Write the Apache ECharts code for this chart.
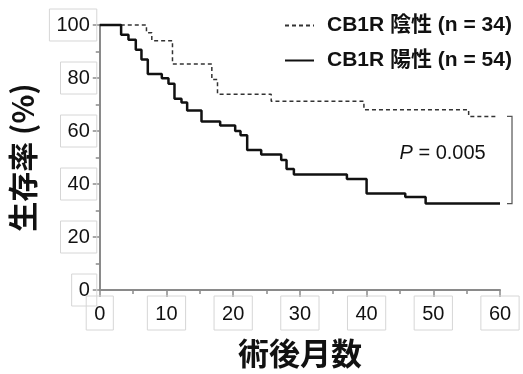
<!DOCTYPE html>
<html>
<head>
<meta charset="utf-8">
<script src="https://cdn.jsdelivr.net/npm/echarts@6/dist/echarts.min.js"></script>
<style>
html,body{margin:0;padding:0;background:#fff;}
#chart{width:523px;height:374px;}
</style>
</head>
<body>
<div id="chart"></div>
<script>
// ---- data ----
const negName = 'CB1R 陰性 (n = 34)';
const posName = 'CB1R 陽性 (n = 54)';
const negTimes = [0, 7.0, 7.8, 10.9, 16.8, 17.65, 25.7, 39.6, 55.3, 59.5];
const negSurv  = [100, 97.1, 94.1, 85.3, 79.4, 73.9, 71.2, 68.0, 65.5, 65.5];
const posTimes = [0, 3.2, 4.3, 5.4, 6.25, 7.2, 9.3, 10.3, 11.2, 12.25, 13.1, 15.25, 18.05, 20.3, 21.1, 22.1, 24.2, 27.2, 28.0, 29.1, 37.05, 40.0, 45.8, 48.85, 60];
const posSurv  = [100, 96.3, 94.4, 90.7, 87.0, 81.5, 79.9, 77.8, 72.2, 70.8, 67.7, 63.6, 62.1, 60.0, 58.4, 52.8, 51.1, 49.1, 45.7, 43.6, 41.9, 36.4, 35.1, 32.6, 32.6];
const xTicks = [0, 10, 20, 30, 40, 50, 60];
const yTicks = [0, 20, 40, 60, 80, 100];
const xTitle = '術後月数';
const yTitle = '生存率 (%)';
const pText = '= 0.005';
const bracketMonth = 61.8;
const pLabelPos = [51.4, 51.6];

const FONT = "'Liberation Sans', Arial, 'Noto Sans CJK JP', sans-serif";
const CJK = "'Noto Sans CJK JP', 'Liberation Sans', sans-serif";
const LEG = "'Liberation Sans', 'Noto Sans CJK JP', sans-serif";

const chart = echarts.init(document.getElementById('chart'), null, {renderer: 'canvas'});
const pair = (xs, ys) => xs.map((x, i) => [x, ys[i]]);

const labelBox = {
  color: '#111', fontFamily: FONT, fontSize: 20,
  borderColor: '#d6d6d6', borderWidth: 1
};

const option = {
  animation: false,
  backgroundColor: '#ffffff',
  grid: {left: 94.3, right: 23, top: 25, bottom: 80.5, containLabel: false},
  legend: {
    orient: 'vertical', left: 284, top: 15, padding: 0, itemWidth: 29, itemHeight: 16, itemGap: 14,
    data: [negName, posName],
    itemStyle: {opacity: 0},
    textStyle: {fontFamily: LEG, fontWeight: 'bold', fontSize: 21, color: '#111', padding: [0, 0, 0, 8]}
  },
  xAxis: {
    type: 'value', min: 0, max: 60, interval: 10,
    name: xTitle, nameLocation: 'middle', nameGap: 48,
    nameTextStyle: {fontFamily: CJK, fontWeight: 'bold', fontSize: 31, color: '#111'},
    axisLine: {show: true, onZero: false, lineStyle: {color: '#8a8a8a', width: 2}},
    axisTick: {show: true, length: 7, lineStyle: {color: '#8a8a8a', width: 1.5}},
    minorTick: {show: true, splitNumber: 2, length: 4, lineStyle: {color: '#8a8a8a', width: 1.5}},
    splitLine: {show: false},
    axisLabel: Object.assign({margin: 6, padding: [8, 8, 6, 8],
      formatter: v => xTicks.includes(v) ? String(v) : ''}, labelBox)
  },
  yAxis: {
    type: 'value', min: 0, max: 100, interval: 20,
    name: yTitle, nameLocation: 'middle', nameGap: 52, nameRotate: 90,
    nameTextStyle: {fontFamily: CJK, fontWeight: 'bold', fontSize: 30, color: '#111'},
    axisLine: {show: true, onZero: false, lineStyle: {color: '#8a8a8a', width: 2}},
    axisTick: {show: true, length: 7, lineStyle: {color: '#8a8a8a', width: 1.5}},
    minorTick: {show: true, splitNumber: 2, length: 4, lineStyle: {color: '#8a8a8a', width: 1.5}},
    splitLine: {show: false},
    axisLabel: Object.assign({margin: 3, padding: [6, 7, 6, 7],
      formatter: v => yTicks.includes(v) ? String(v) : ''}, labelBox)
  },
  series: [
    {
      name: negName, type: 'line', step: 'end', showSymbol: false, symbol: 'none',
      data: pair(negTimes, negSurv), clip: false,
      lineStyle: {color: '#333', width: 1.5, type: [4, 3]},
      itemStyle: {color: '#333'}
    },
    {
      name: posName, type: 'line', step: 'end', showSymbol: false, symbol: 'none',
      data: pair(posTimes, posSurv), clip: false,
      lineStyle: {color: '#111', width: 2.5},
      itemStyle: {color: '#111'}
    }
  ]
};
chart.setOption(option);

// annotation: bracket + P value, positioned through the chart's scales
const bTop = chart.convertToPixel({gridIndex: 0}, [bracketMonth, negSurv[negSurv.length - 1]]);
const bBot = chart.convertToPixel({gridIndex: 0}, [bracketMonth, posSurv[posSurv.length - 1]]);
const pPos = chart.convertToPixel({gridIndex: 0}, pLabelPos);
chart.setOption({
  graphic: [
    {
      type: 'polyline', silent: true,
      shape: {points: [[bTop[0] - 5, bTop[1]], [bTop[0], bTop[1]], [bBot[0], bBot[1]], [bBot[0] - 5, bBot[1]]]},
      style: {stroke: '#555', lineWidth: 1.2, fill: null}
    },
    {
      type: 'text', silent: true, x: pPos[0], y: pPos[1],
      style: {
        text: '{i|P} {n|' + pText + '}',
        align: 'center', verticalAlign: 'middle',
        rich: {
          i: {fontFamily: FONT, fontStyle: 'italic', fontSize: 20, fill: '#111'},
          n: {fontFamily: FONT, fontSize: 20, fill: '#111'}
        },
        font: '20px ' + FONT, fill: '#111'
      }
    }
  ]
});
</script>
</body>
</html>
